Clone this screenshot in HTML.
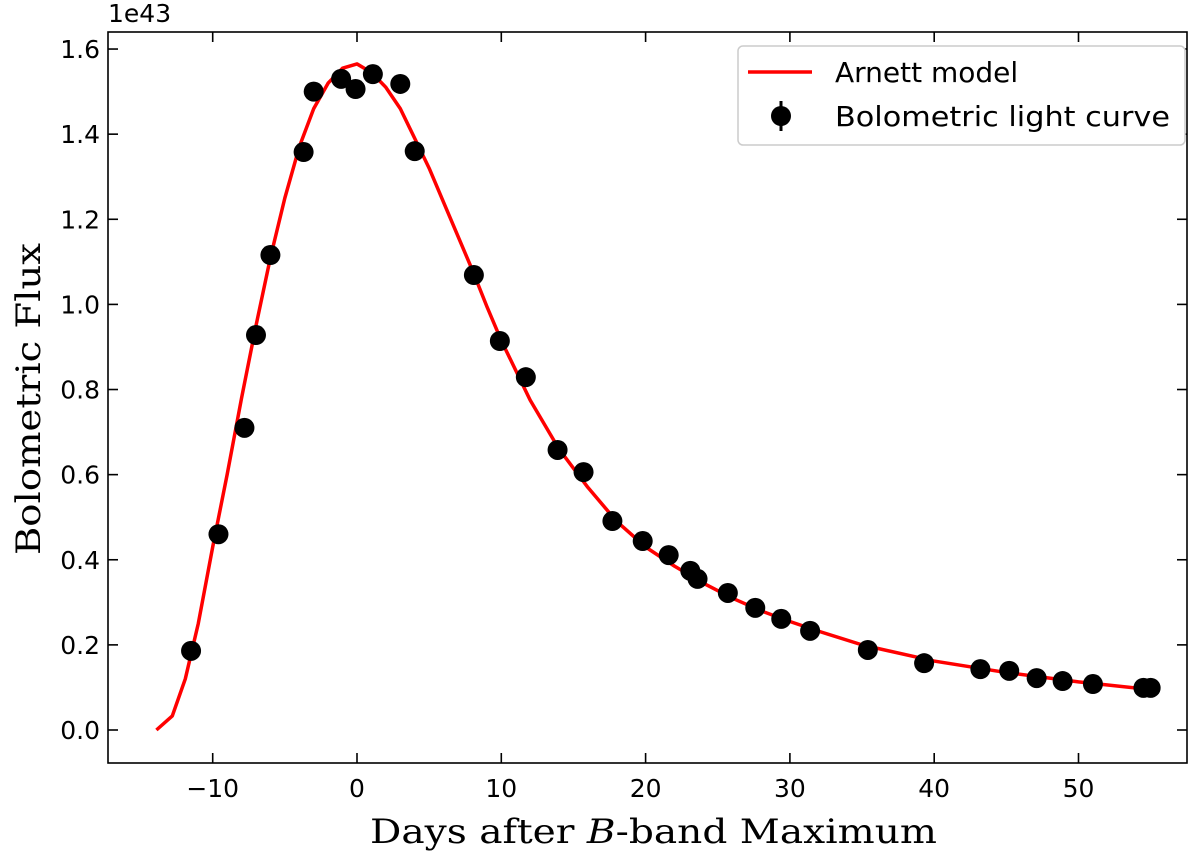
<!DOCTYPE html>
<html><head><meta charset="utf-8"><style>
body{margin:0;background:#fff;}
svg text{font-family:"DejaVu Sans","Liberation Sans",sans-serif;}
</style></head><body>
<svg id="chart" width="1200" height="854" xmlns="http://www.w3.org/2000/svg"></svg>
<script>
const obsDays=[-11.5,-9.6,-7.8,-7.0,-6.0,-3.7,-3.0,-1.1,-0.1,1.1,3.0,4.0,8.1,9.9,11.7,13.9,15.7,17.7,19.8,21.6,23.1,23.6,25.7,27.6,29.4,31.4,35.4,39.3,43.2,45.2,47.1,48.9,51.0,54.5,55.0];
const obsFlux=[0.186,0.46,0.71,0.928,1.116,1.358,1.50,1.53,1.506,1.541,1.518,1.36,1.069,0.914,0.829,0.658,0.606,0.491,0.444,0.411,0.374,0.355,0.322,0.287,0.261,0.233,0.188,0.157,0.143,0.139,0.122,0.115,0.108,0.099,0.099];
const modelDays=[-13.9,-12.8,-11.9,-11,-10,-9,-8,-7,-6,-5,-4,-3,-2,-1,0,1,2,3,4,5,6,7,8,9,10,12,14,16,18,20,22,24,26,28,30,32,35,40,45,50,55];
const modelFlux=[0.0,0.033,0.12,0.25,0.43,0.60,0.78,0.95,1.11,1.25,1.37,1.46,1.52,1.555,1.565,1.545,1.51,1.46,1.39,1.32,1.24,1.16,1.08,0.995,0.915,0.775,0.66,0.57,0.49,0.43,0.385,0.345,0.31,0.28,0.255,0.232,0.2,0.162,0.135,0.113,0.095];
const xTicks=[-10,0,10,20,30,40,50];
const yTicks=[0.0,0.2,0.4,0.6,0.8,1.0,1.2,1.4,1.6];

const L=108,R=1187,T=32,B=763;
const X=d=>357+d*14.43;
const Y=v=>730-v*425.6;
const svg=document.getElementById('chart');
const NS='http://www.w3.org/2000/svg';
function mk(tag,attrs,parent){const e=document.createElementNS(NS,tag);for(const k in attrs)e.setAttribute(k,attrs[k]);(parent||svg).appendChild(e);return e;}

const line=mk('polyline',{points:modelDays.map((d,i)=>X(d)+','+Y(modelFlux[i])).join(' '),fill:'none',stroke:'#ff0000','stroke-width':3.5,'stroke-linejoin':'round'});



obsDays.forEach((d,i)=>{
  const c=mk('circle',{cx:X(d),cy:Y(obsFlux[i]),r:10,fill:'#000'});
  
  
});

const fr=mk('rect',{x:L,y:T,width:R-L,height:B-T,fill:'none',stroke:'#000','stroke-width':1.6});



xTicks.forEach(t=>{
  const x=X(t);
  mk('line',{x1:x,y1:B,x2:x,y2:B-10,stroke:'#000','stroke-width':1.6});
  mk('line',{x1:x,y1:T,x2:x,y2:T+10,stroke:'#000','stroke-width':1.6});
  const tx=mk('text',{x:x,y:B+34,'text-anchor':'middle','font-size':25});
  tx.textContent=(t<0?'\u2212'+(-t):t);
  
  
});
yTicks.forEach(t=>{
  const y=Y(t);
  mk('line',{x1:L,y1:y,x2:L+10,y2:y,stroke:'#000','stroke-width':1.6});
  mk('line',{x1:R,y1:y,x2:R-10,y2:y,stroke:'#000','stroke-width':1.6});
  const tx=mk('text',{x:L-8,y:y+9,'text-anchor':'end','font-size':25});
  tx.textContent=t.toFixed(1);
  
  
});
</script>
<svg width="1200" height="854" style="position:absolute;left:0;top:0" xmlns="http://www.w3.org/2000/svg">
<text x="108" y="22" font-size="25">1e43</text>
<text x="370" y="843" textLength="567" lengthAdjust="spacingAndGlyphs" style="font-family:'DejaVu Serif','Liberation Serif',serif;font-size:34px">Days after <tspan font-style="italic">B</tspan>-band Maximum</text>
<text transform="translate(40,555) rotate(-90)" textLength="312" lengthAdjust="spacingAndGlyphs" style="font-family:'DejaVu Serif','Liberation Serif',serif;font-size:34px">Bolometric Flux</text>
<g>
<rect x="738" y="46" width="447" height="99" rx="5" fill="#fff" stroke="#ccc" stroke-width="1.5"/>
<line x1="748" y1="72" x2="812" y2="72" stroke="#ff0000" stroke-width="3.5"/>
<text x="835" y="82" font-size="28">Arnett model</text>
<line x1="781" y1="101" x2="781" y2="131" stroke="#000" stroke-width="3"/>
<circle cx="781" cy="116" r="10" fill="#000"/>
<text x="835" y="126" font-size="28" textLength="335" lengthAdjust="spacingAndGlyphs">Bolometric light curve</text>
</g>
</svg>
</body></html>
